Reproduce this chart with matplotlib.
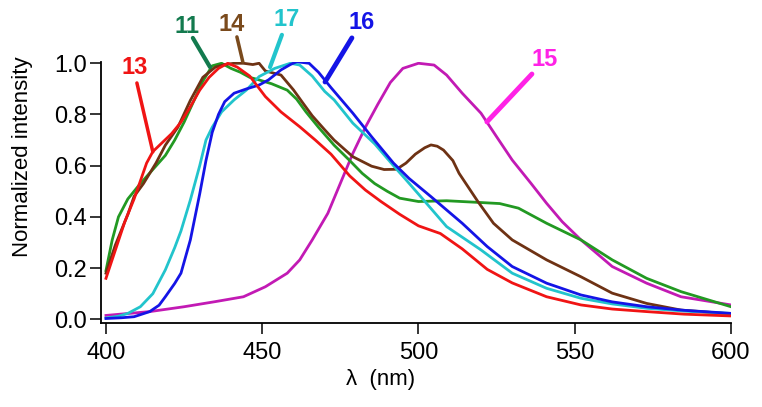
import matplotlib
matplotlib.use("Agg")
import matplotlib.pyplot as plt

plt.rcParams['font.family'] = ['Liberation Sans', 'DejaVu Sans']

# emission spectra
wl13 = [400, 403, 406, 409, 411, 413, 415, 418, 421, 424, 427, 430, 433, 436, 439, 442, 446, 451, 456, 462,
        467, 472, 478, 483, 488, 494, 500, 507, 514, 522, 530, 541, 552, 562, 573, 585, 600]
v13 = [0.16, 0.27, 0.38, 0.47, 0.54, 0.61, 0.655, 0.69, 0.725, 0.77, 0.83, 0.895, 0.945, 0.98, 1.0, 0.985, 0.95, 0.87, 0.81, 0.752,
       0.70, 0.645, 0.56, 0.505, 0.46, 0.41, 0.365, 0.335, 0.275, 0.195, 0.142, 0.088, 0.056, 0.04, 0.03, 0.02, 0.013]

wl11 = [400, 402, 404, 407, 411, 415, 419, 422, 425, 428, 431, 434, 437, 440, 443, 446, 449, 453, 458, 461,
        464, 468, 473, 478, 482, 486, 490, 494, 500, 509, 520, 526, 532, 541, 552, 562, 573, 584, 600]
v11 = [0.19, 0.31, 0.40, 0.47, 0.53, 0.585, 0.64, 0.70, 0.77, 0.85, 0.93, 0.99, 1.0, 0.98, 0.965, 0.945, 0.935, 0.92, 0.895, 0.86,
       0.81, 0.75, 0.68, 0.62, 0.57, 0.53, 0.50, 0.473, 0.46, 0.463, 0.456, 0.452, 0.434, 0.375, 0.31, 0.232, 0.16, 0.108, 0.049]

wl14 = [400, 403, 407, 409, 412, 416, 419, 423, 427, 431, 435, 438, 441, 444, 447, 449, 451, 456, 460, 463,
        466, 470, 473, 479, 485, 489, 493, 496, 499, 502, 504, 506, 508, 511, 513, 516, 519, 524, 530, 541,
        552, 562, 573, 584, 600]
v14 = [0.18, 0.29, 0.41, 0.48, 0.53, 0.61, 0.68, 0.75, 0.855, 0.945, 0.985, 0.995, 1.0, 1.0, 0.995, 1.0, 0.97, 0.954, 0.896, 0.845,
       0.795, 0.74, 0.70, 0.635, 0.598, 0.585, 0.586, 0.61, 0.645, 0.67, 0.681, 0.676, 0.661, 0.62, 0.57, 0.515, 0.46, 0.375, 0.31, 0.232,
       0.166, 0.102, 0.062, 0.036, 0.021]

wl17 = [400, 404, 407, 411, 415, 419, 422, 424, 427, 430, 432, 434, 437, 441, 445, 449, 454, 459, 462, 466,
        470, 473, 479, 486, 492, 496, 501, 509, 520, 530, 541, 552, 562, 573, 585, 600]
v17 = [0.005, 0.012, 0.023, 0.049, 0.10, 0.193, 0.28, 0.345, 0.466, 0.60, 0.70, 0.75, 0.81, 0.857, 0.896, 0.948, 0.98, 1.0, 0.993, 0.95,
       0.89, 0.857, 0.766, 0.685, 0.60, 0.545, 0.475, 0.362, 0.271, 0.18, 0.121, 0.082, 0.06, 0.043, 0.032, 0.023]

wl16 = [400, 405, 409, 414, 417, 419, 422, 424, 427, 430, 432, 434, 436, 438, 441, 445, 449, 452, 456, 459,
        461, 465, 468, 472, 479, 485, 492, 497, 504, 514, 522, 530, 541, 552, 562, 573, 585, 600]
v16 = [0.003, 0.006, 0.01, 0.03, 0.055, 0.088, 0.14, 0.18, 0.31, 0.49, 0.62, 0.73, 0.80, 0.85, 0.883, 0.90, 0.915, 0.935, 0.974, 0.995,
       1.006, 1.0, 0.965, 0.905, 0.805, 0.713, 0.61, 0.55, 0.479, 0.375, 0.284, 0.206, 0.141, 0.095, 0.068, 0.049, 0.035, 0.023]

wl15 = [400, 414, 425, 435, 444, 451, 458, 462, 466, 471, 475, 479, 483, 487, 491, 495, 500, 505, 509, 514,
        520, 525, 530, 536, 541, 546, 552, 562, 573, 584, 600]
v15 = [0.015, 0.03, 0.049, 0.069, 0.088, 0.127, 0.18, 0.232, 0.31, 0.414, 0.531, 0.648, 0.75, 0.84, 0.925, 0.98, 1.0, 0.993, 0.954, 0.883,
       0.805, 0.713, 0.622, 0.531, 0.453, 0.381, 0.31, 0.206, 0.141, 0.088, 0.056]

# (name, x, y, line colour, label colour)
series = [
    ('15', wl15, v15, '#c21ab4', '#ff22e6'),
    ('11', wl11, v11, '#229922', '#137a4e'),
    ('14', wl14, v14, '#6e3214', '#7a4a1c'),
    ('17', wl17, v17, '#22c4cc', '#22c4cc'),
    ('16', wl16, v16, '#1414e6', '#1414e6'),
    ('13', wl13, v13, '#f01414', '#f01414'),
]

# label: text position, leader line start and end (data coords), leader width
labels = {
    '13': ((409.3, 0.985), (409.9, 0.923), (415.0, 0.654), 2.5),
    '11': ((425.9, 1.142), (427.8, 1.099), (433.3, 0.985), 3.0),
    '14': ((440.3, 1.150), (441.9, 1.103), (443.8, 1.005), 2.5),
    '17': ((457.9, 1.170), (456.3, 1.111), (452.5, 0.985), 3.0),
    '16': ((481.9, 1.161), (478.7, 1.099), (470.1, 0.927), 3.5),
    '15': ((540.5, 1.013), (536.3, 0.958), (521.9, 0.771), 3.5),
}

fig = plt.figure(figsize=(7.62, 4.07), dpi=100)
ax = fig.add_axes([0.1325, 0.2064, 0.8268, 0.6413])

for name, x, y, lc, tc in series:
    ax.plot(x, y, color=lc, lw=2.0)

for name, x, y, lc, tc in series:
    txt, p0, p1, lw = labels[name]
    ax.annotate('', xy=p1, xytext=p0,
                arrowprops=dict(arrowstyle='-', color=tc, lw=lw,
                                shrinkA=0, shrinkB=0),
                annotation_clip=False)
    ax.text(txt[0], txt[1], name, color=tc, fontsize=17, fontweight='bold',
            ha='center', va='center', clip_on=False)

ax.set_xlim(398.4, 600)
ax.set_ylim(-0.0145, 1.005)
ax.set_xticks([400, 450, 500, 550, 600])
ax.set_yticks([0.0, 0.2, 0.4, 0.6, 0.8, 1.0])
ax.set_yticklabels(['0.0', '0.2', '0.4', '0.6', '0.8', '1.0'])

ax.spines['top'].set_visible(False)
ax.spines['right'].set_visible(False)
ax.spines['left'].set_linewidth(1.3)
ax.spines['bottom'].set_linewidth(1.3)
ax.tick_params(axis='both', direction='out', length=8, width=1.1, labelsize=17)
ax.tick_params(axis='x', pad=6)
ax.tick_params(axis='y', pad=2)

ax.set_xlabel('λ  (nm)', fontsize=16)
ax.set_ylabel('Normalized intensity', fontsize=16)
ax.xaxis.set_label_coords(0.444, -0.176)
ax.yaxis.set_label_coords(-0.108, 0.638)

fig.savefig('out.png', dpi=100)
